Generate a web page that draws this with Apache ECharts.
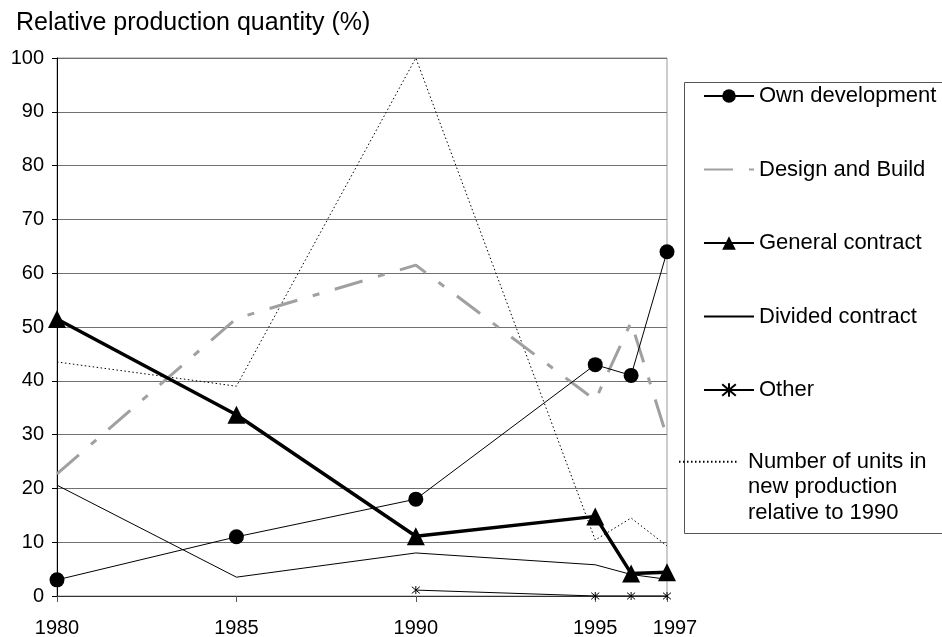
<!DOCTYPE html>
<html>
<head>
<meta charset="utf-8">
<script src="https://cdn.jsdelivr.net/npm/echarts@6/dist/echarts.min.js"></script>
<style>html,body{margin:0;padding:0;background:#fff}#c{width:942px;height:637px}</style>
</head>
<body>
<div id="c"></div>
<script>
const years = [1980, 1985, 1990, 1995, 1996, 1997];
const ownDevelopment = [3, 11, 18, 43, 41, 64];
const designAndBuild = [22.7, 51.6, 61.5, 36.4, 50.9, 29.5];
const generalContract = [51.5, 33.7, 11.1, 14.8, 4.2, 4.4];
const dividedContract = [20.6, 3.5, 8, 5.8, 4, 3.1];
const other = [null, null, 1.1, 0, 0, 0];
const unitsRelative1990 = [43.5, 39, 100, 10.4, 14.5, 9.3];
const xTickLabels = [1980, 1985, 1990, 1995, 1997];
const yTitle = 'Relative production quantity (%)';
const names = ['Own development', 'Design and Build', 'General contract', 'Divided contract', 'Other',
  'Number of units in\nnew production\nrelative to 1990'];

const pair = arr => years.map((y, i) => [y, arr[i]]);
const FONT = 'Liberation Sans, Arial, sans-serif';
const asterisk = 'path://M0,0L10,10M10,0L0,10M5,-1L5,11';
const NOFILL = 'rgba(0,0,0,0)';

const chart = echarts.init(document.getElementById('c'));
chart.setOption({
  animation: false,
  backgroundColor: '#fff',
  textStyle: { fontFamily: FONT, color: '#000' },
  title: {
    text: yTitle, left: 11, top: 6,
    textStyle: { fontFamily: FONT, fontSize: 25, fontWeight: 'normal', color: '#000' }
  },
  grid: {
    left: 57, right: 275, top: 58, bottom: 41,
    outerBoundsMode: 'none',
    show: true, borderColor: '#999', borderWidth: 1
  },
  xAxis: {
    type: 'value', min: 1980, max: 1997,
    axisLine: { show: true, lineStyle: { color: '#333', width: 1 } },
    axisTick: { show: true, length: 6, customValues: xTickLabels, lineStyle: { color: '#555' } },
    axisLabel: {
      customValues: xTickLabels, margin: 22, fontSize: 20, color: '#000', fontFamily: FONT,
      formatter: v => v === 1997 ? '{up|1997}' : String(v),
      rich: { up: { fontSize: 20, fontFamily: FONT, color: '#000', padding: [0, 0, 6, 16] } }
    },
    splitLine: { show: false }
  },
  yAxis: {
    type: 'value', min: 0, max: 100, interval: 10,
    axisLine: { show: true, lineStyle: { color: '#000' } },
    axisTick: { show: true, length: 5, lineStyle: { color: '#000' } },
    axisLabel: { margin: 13, fontSize: 20, color: '#000', fontFamily: FONT },
    splitLine: { lineStyle: { color: '#707070', width: 1 } }
  },
  graphic: [{
    type: 'rect', left: 682, top: 80, silent: true,
    shape: { width: 280, height: 451 },
    style: { fill: 'none', stroke: '#555', lineWidth: 1 }
  }],
  legend: [{
    orient: 'vertical', left: 703, top: 85, padding: 0,
    itemWidth: 50, itemHeight: 17, itemGap: 51.5,
    textStyle: { fontSize: 22, lineHeight: 22, fontFamily: FONT, color: '#000' },
    data: names.slice(0, 5)
  }, {
    orient: 'vertical', left: 678, top: 398, padding: 0,
    itemWidth: 59, itemHeight: 17,
    formatter: n => '\n\n' + n,
    textStyle: { fontSize: 22, lineHeight: 25.5, fontFamily: FONT, color: '#000', padding: [0, 0, 0, 5] },
    data: [names[5]]
  }],
  series: [
    {
      name: names[3], type: 'line', data: pair(dividedContract), symbol: 'none',
      lineStyle: { color: '#000', width: 1 }, itemStyle: { color: NOFILL }, z: 2
    },
    {
      name: names[5], type: 'line', data: pair(unitsRelative1990), symbol: 'none',
      lineStyle: { color: '#000', width: 1, type: [1.5, 2.5] }, itemStyle: { color: NOFILL }, z: 2
    },
    {
      name: names[1], type: 'line', data: pair(designAndBuild), symbol: 'none',
      lineStyle: { color: '#a0a0a0', width: 3, type: [29, 16, 7, 16], cap: 'butt' },
      itemStyle: { color: NOFILL }, z: 3
    },
    {
      name: names[4], type: 'line', data: pair(other), symbol: asterisk, symbolSize: 8,
      lineStyle: { color: '#000', width: 1 },
      itemStyle: { color: '#000', borderColor: '#000', borderWidth: 1 }, z: 4
    },
    {
      name: names[2], type: 'line', data: pair(generalContract), symbol: 'triangle', symbolSize: 18,
      lineStyle: { color: '#000', width: 3.5 }, itemStyle: { color: '#000' }, z: 5
    },
    {
      name: names[0], type: 'line', data: pair(ownDevelopment), symbol: 'circle', symbolSize: 15,
      lineStyle: { color: '#000', width: 1 }, itemStyle: { color: '#000' }, z: 6
    }
  ]
});
</script>
</body>
</html>
